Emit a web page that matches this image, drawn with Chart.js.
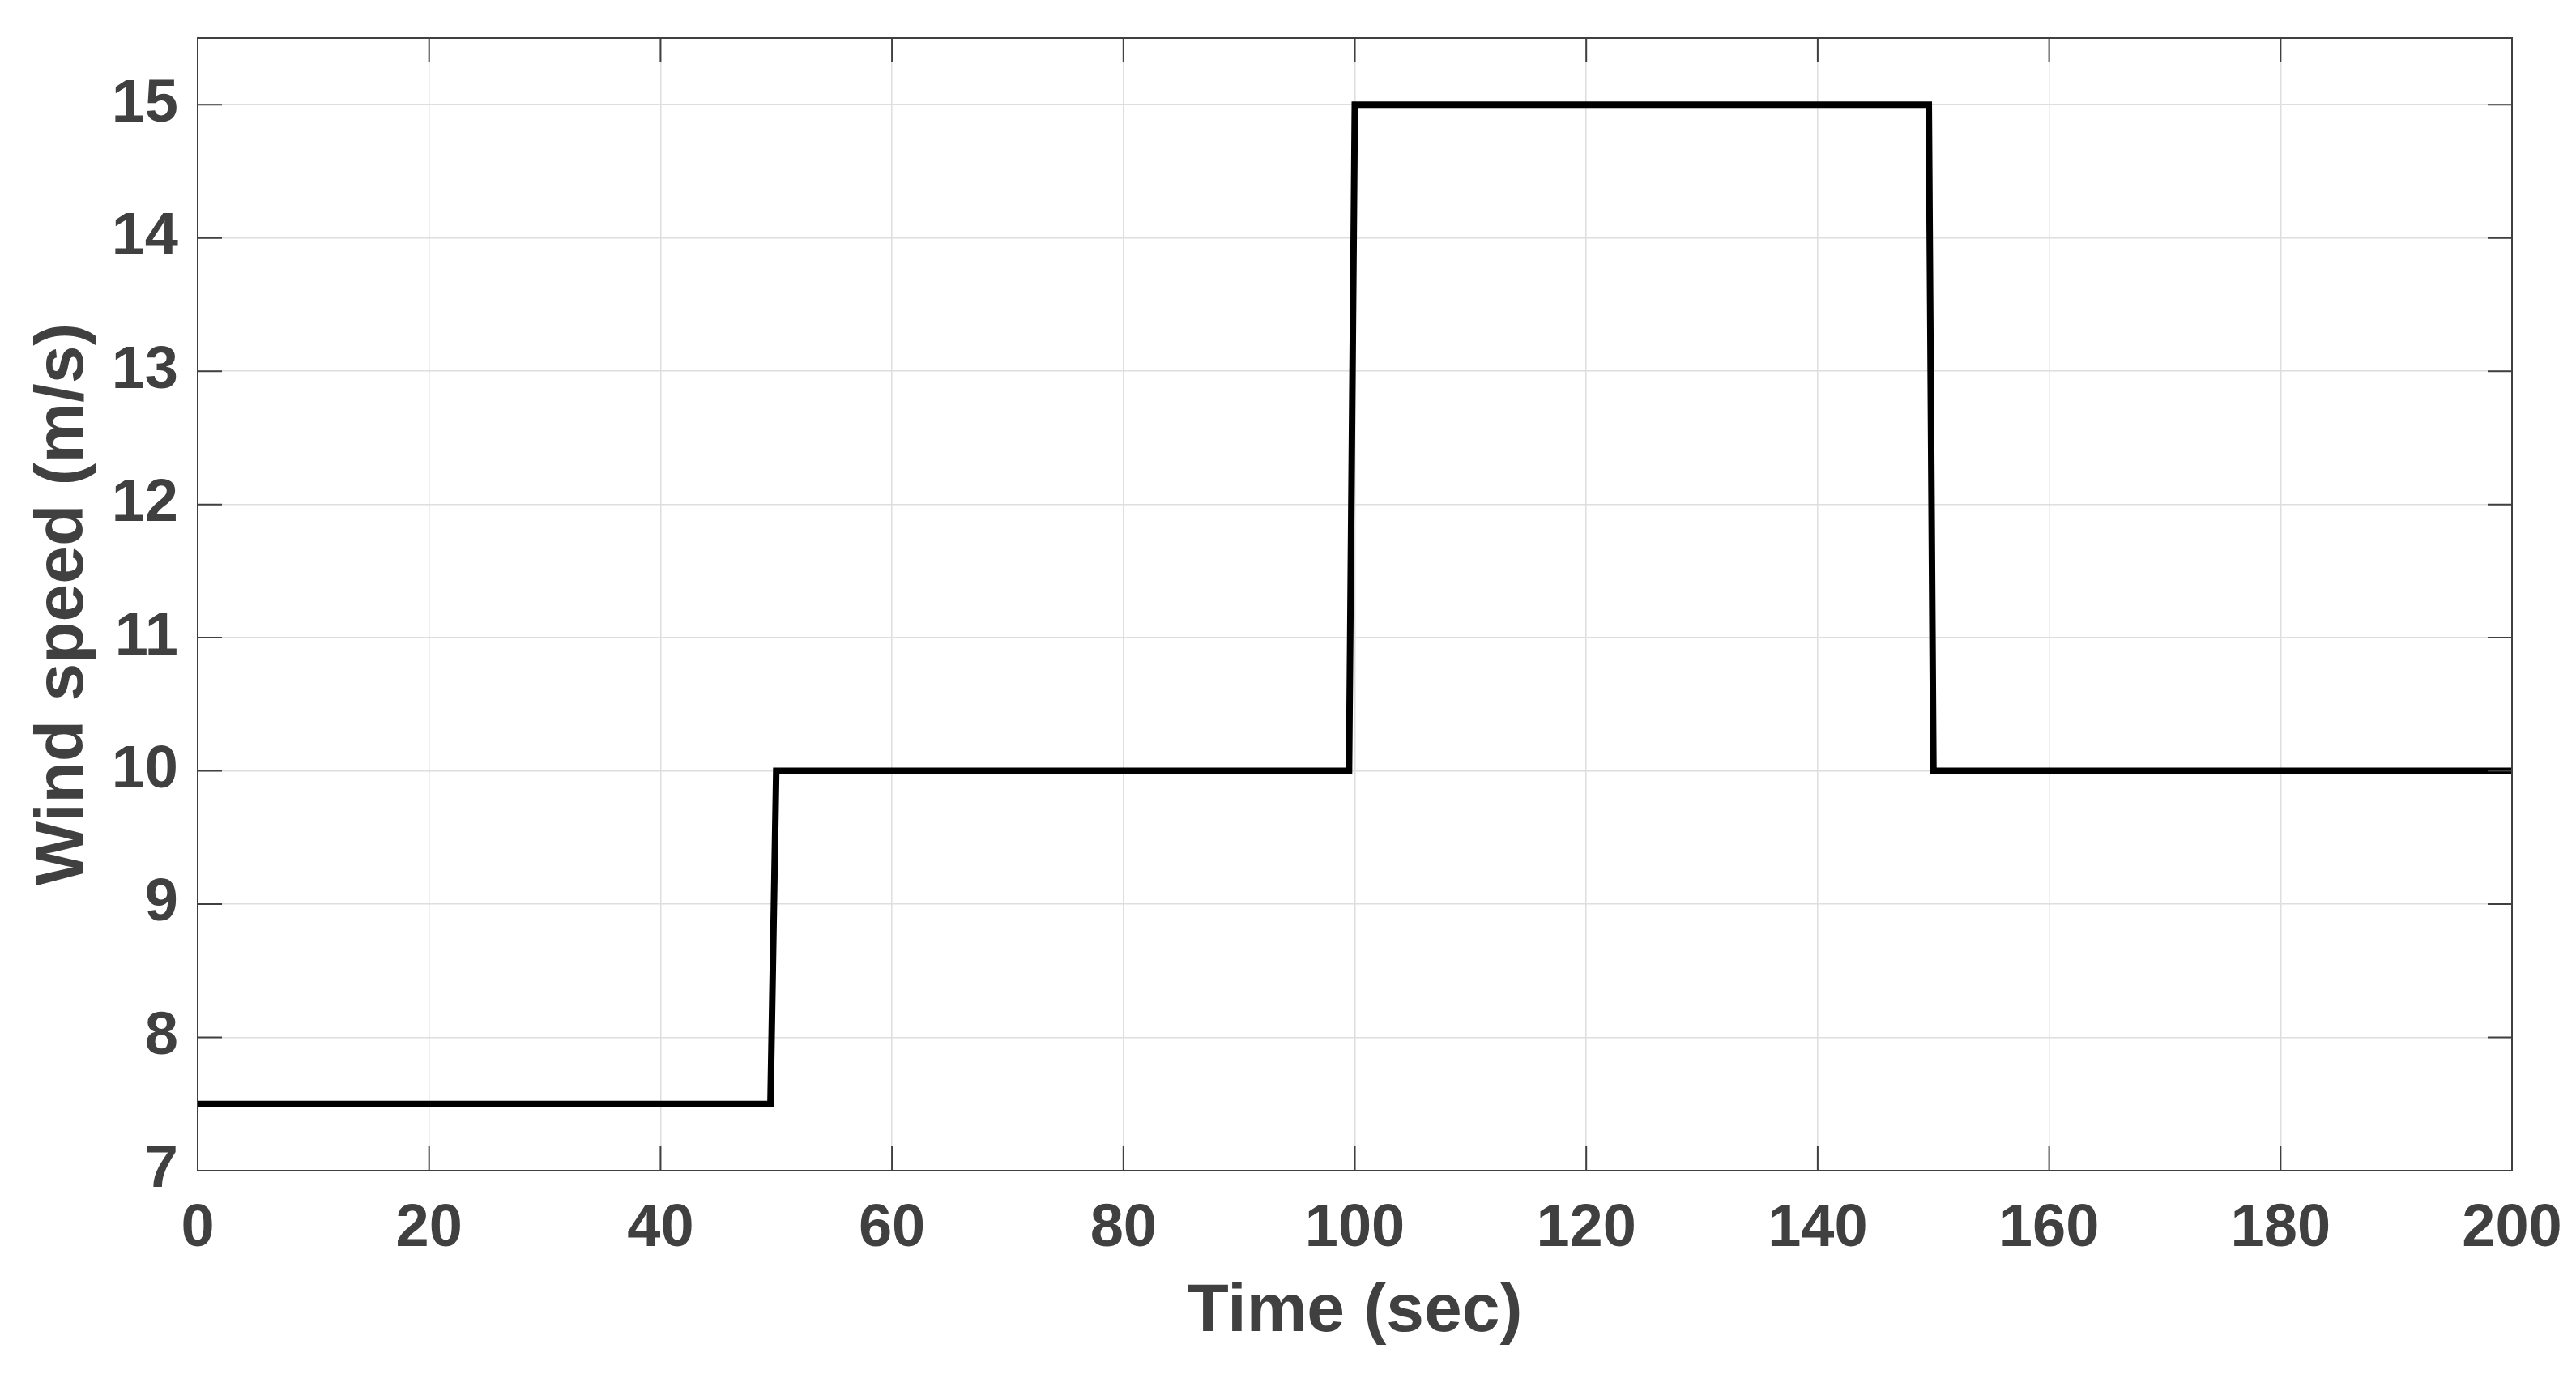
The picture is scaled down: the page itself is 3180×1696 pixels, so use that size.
<!DOCTYPE html>
<html>
<head>
<meta charset="utf-8">
<script src="https://cdn.jsdelivr.net/npm/chart.js@4/dist/chart.umd.min.js"></script>
<style>
  html, body { margin: 0; padding: 0; background: #fff; }
  #wrap { width: 3180px; height: 1696px; }
</style>
</head>
<body>
<div id="wrap"><canvas id="wind_chart"></canvas></div>
<script>
// step profile of the wind speed
const time_sec = [0, 49.5, 50, 99.5, 100, 149.6, 150, 200];
const wind_speed = [7.5, 7.5, 10, 10, 15, 15, 10, 10];
const x_ticks = [0, 20, 40, 60, 80, 100, 120, 140, 160, 180, 200];
const y_ticks = [7, 8, 9, 10, 11, 12, 13, 14, 15];

Chart.defaults.responsive = true;
Chart.defaults.maintainAspectRatio = false;
Chart.defaults.animation = false;

const axis_color = "#404040";
const grid_color = "#dedede";
const font_family = "'Liberation Sans', Arial, sans-serif";

// no extra margins from the tick labels, the layout padding decides
const no_label_margins = (scale) => {
  scale.paddingTop = 0;
  scale.paddingBottom = 0;
  scale.paddingLeft = 0;
  scale.paddingRight = 0;
};

// box + inward ticks on all four sides, like a matlab figure
const frame_plugin = {
  id: "frame_plugin",
  afterDatasetsDraw(chart) {
    const { ctx, chartArea: a, scales } = chart;
    const tick_len = 30;
    ctx.save();
    ctx.strokeStyle = axis_color;
    ctx.lineWidth = 2;
    x_ticks.forEach((v) => {
      const px = scales.x.getPixelForValue(v);
      ctx.beginPath();
      ctx.moveTo(px, a.bottom);
      ctx.lineTo(px, a.bottom - tick_len);
      ctx.moveTo(px, a.top);
      ctx.lineTo(px, a.top + tick_len);
      ctx.stroke();
    });
    y_ticks.forEach((v) => {
      const py = scales.y.getPixelForValue(v);
      ctx.beginPath();
      ctx.moveTo(a.left, py);
      ctx.lineTo(a.left + tick_len, py);
      ctx.moveTo(a.right, py);
      ctx.lineTo(a.right - tick_len, py);
      ctx.stroke();
    });
    ctx.strokeRect(a.left, a.top, a.right - a.left, a.bottom - a.top);
    ctx.restore();
  },
};

const ctx = document.getElementById("wind_chart").getContext("2d");

new Chart(ctx, {
  type: "line",
  data: {
    datasets: [
      {
        label: "Wind speed",
        data: time_sec.map((t, i) => ({ x: t, y: wind_speed[i] })),
        borderColor: "#000000",
        borderWidth: 8,
        borderJoinStyle: "miter",
        pointRadius: 0,
        tension: 0,
        fill: false,
      },
    ],
  },
  options: {
    layout: { padding: { top: 47, right: 79, left: 0, bottom: 0 } },
    plugins: {
      legend: { display: false },
      tooltip: { enabled: false },
    },
    scales: {
      x: {
        type: "linear",
        min: 0,
        max: 200,
        afterFit: (scale) => {
          scale.height = 251;
          no_label_margins(scale);
        },
        afterBuildTicks: (scale) => { scale.ticks = x_ticks.map((v) => ({ value: v })); },
        grid: { color: grid_color, lineWidth: 1.5, drawTicks: false },
        border: { display: false },
        ticks: {
          color: axis_color,
          padding: 28,
          maxRotation: 0,
          font: { family: font_family, size: 74, weight: "bold" },
        },
        title: {
          display: true,
          text: "Time (sec)",
          color: axis_color,
          padding: { top: 0, bottom: 26 },
          font: { family: font_family, size: 84, weight: "bold" },
        },
      },
      y: {
        type: "linear",
        min: 7,
        max: 15.5,
        afterFit: (scale) => {
          scale.width = 244;
          no_label_margins(scale);
        },
        afterBuildTicks: (scale) => { scale.ticks = y_ticks.map((v) => ({ value: v })); },
        grid: { color: grid_color, lineWidth: 1.5, drawTicks: false },
        border: { display: false },
        ticks: {
          color: axis_color,
          padding: 24,
          font: { family: font_family, size: 74, weight: "bold" },
        },
        title: {
          display: true,
          text: "Wind speed (m/s)",
          color: axis_color,
          padding: { top: 28, bottom: 0 },
          font: { family: font_family, size: 84, weight: "bold" },
        },
      },
    },
  },
  plugins: [frame_plugin],
});
</script>
</body>
</html>
